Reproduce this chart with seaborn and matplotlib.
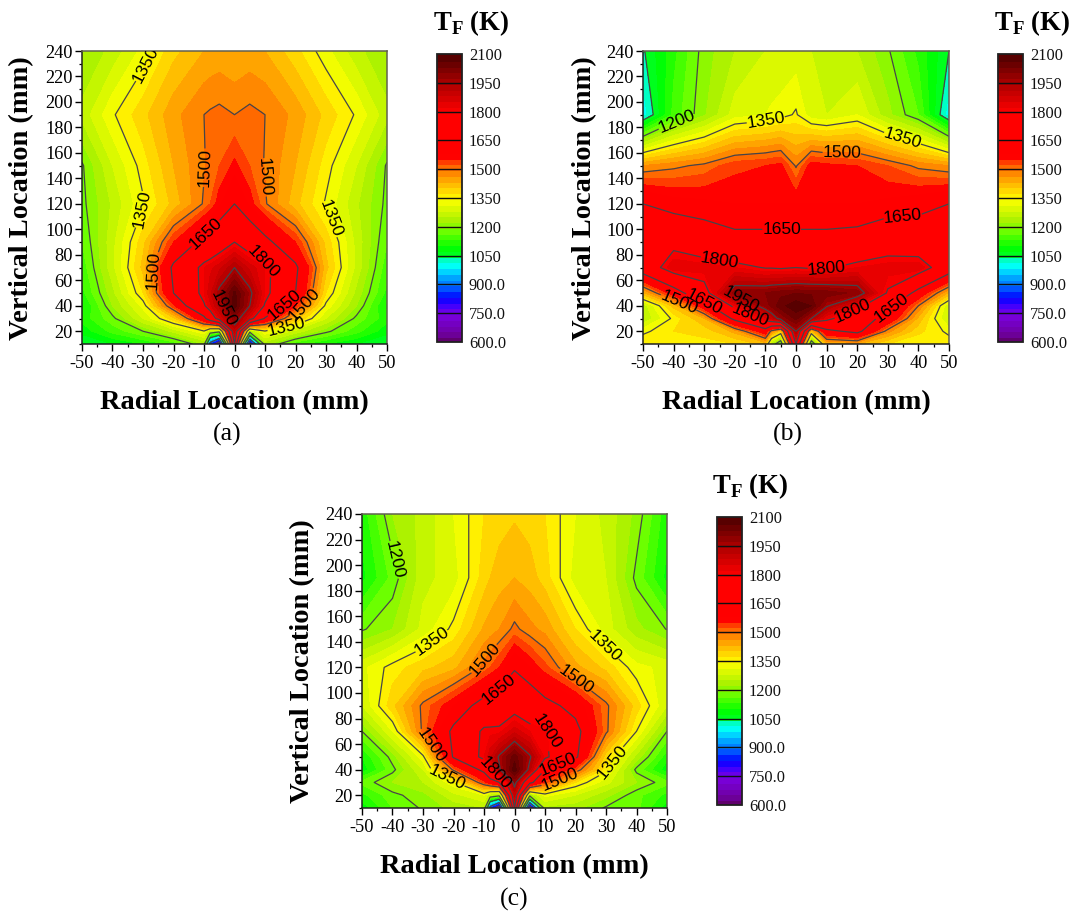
import matplotlib
matplotlib.use("Agg")
import matplotlib.pyplot as plt
import numpy as np
import seaborn as sns
from matplotlib.colors import LinearSegmentedColormap
from matplotlib.ticker import MultipleLocator

sns.set_theme(style="ticks")
plt.rcParams['font.family'] = ['Liberation Serif', 'DejaVu Serif']
plt.rcParams['mathtext.fontset'] = 'custom'
plt.rcParams['mathtext.bf'] = 'Liberation Serif:bold'
plt.rcParams['mathtext.rm'] = 'Liberation Serif:bold'
plt.rcParams['axes.unicode_minus'] = False

radial = [-50, -40, -30, -20, -10, -8, -5, 0, 5, 10, 20, 30, 40, 50]
vertical = [10, 20, 30, 40, 50, 70, 90, 120, 150, 190, 240]

temp_a = [
    [1050, 1080, 1110, 1150, 1230, 850, 650, 1800, 680, 1240, 1150, 1110, 1080, 1050],
    [1090, 1150, 1200, 1270, 1345, 1260, 1230, 1900, 1240, 1345, 1280, 1210, 1150, 1090],
    [1120, 1190, 1290, 1400, 1620, 1720, 1850, 2000, 1850, 1640, 1420, 1290, 1190, 1120],
    [1100, 1230, 1330, 1550, 1790, 1850, 1930, 2090, 1950, 1790, 1560, 1340, 1230, 1100],
    [1130, 1250, 1380, 1650, 1830, 1880, 1970, 2080, 1970, 1830, 1650, 1380, 1250, 1130],
    [1150, 1280, 1420, 1670, 1830, 1850, 1880, 1950, 1880, 1830, 1670, 1420, 1280, 1150],
    [1170, 1280, 1400, 1560, 1680, 1700, 1740, 1800, 1740, 1680, 1560, 1400, 1280, 1170],
    [1190, 1265, 1345, 1420, 1505, 1530, 1580, 1650, 1580, 1505, 1420, 1345, 1265, 1190],
    [1195, 1290, 1365, 1440, 1497, 1510, 1530, 1570, 1530, 1497, 1440, 1365, 1290, 1195],
    [1270, 1345, 1400, 1460, 1500, 1505, 1510, 1500, 1510, 1500, 1460, 1400, 1345, 1270],
    [1230, 1270, 1330, 1400, 1440, 1445, 1450, 1440, 1450, 1440, 1390, 1330, 1270, 1230],
]

temp_b = [
    [1380, 1350, 1370, 1380, 1420, 1250, 1130, 1800, 1130, 1430, 1440, 1380, 1350, 1370],
    [1340, 1380, 1390, 1450, 1600, 1480, 1400, 1950, 1400, 1620, 1680, 1480, 1390, 1340],
    [1260, 1360, 1440, 1680, 1850, 1900, 1980, 2050, 1950, 1830, 1700, 1620, 1430, 1280],
    [1270, 1420, 1600, 1830, 1990, 2020, 2060, 2090, 2070, 1960, 1830, 1680, 1500, 1290],
    [1430, 1590, 1760, 2000, 2010, 2020, 2030, 2040, 2035, 2030, 2000, 1790, 1610, 1430],
    [1720, 1860, 1850, 1830, 1795, 1795, 1790, 1800, 1790, 1790, 1830, 1850, 1860, 1720],
    [1700, 1770, 1720, 1680, 1680, 1680, 1680, 1680, 1680, 1680, 1690, 1740, 1720, 1700],
    [1650, 1610, 1600, 1590, 1590, 1590, 1590, 1590, 1590, 1590, 1590, 1600, 1620, 1650],
    [1470, 1490, 1510, 1550, 1560, 1565, 1570, 1495, 1580, 1570, 1560, 1530, 1490, 1470],
    [1000, 1150, 1225, 1305, 1320, 1325, 1335, 1355, 1300, 1290, 1320, 1240, 1170, 1000],
    [1045, 1130, 1215, 1260, 1290, 1295, 1290, 1300, 1290, 1280, 1260, 1205, 1130, 1050],
]

temp_c = [
    [1090, 1170, 1205, 1240, 1260, 850, 650, 1800, 650, 1250, 1240, 1195, 1180, 1090],
    [1130, 1190, 1220, 1280, 1320, 1260, 1230, 1900, 1230, 1330, 1290, 1240, 1180, 1130],
    [1180, 1230, 1260, 1340, 1540, 1590, 1650, 1980, 1680, 1540, 1380, 1300, 1230, 1180],
    [1090, 1190, 1290, 1510, 1680, 1790, 1940, 2090, 1930, 1650, 1530, 1360, 1190, 1090],
    [1110, 1215, 1340, 1660, 1830, 1880, 1960, 2060, 1960, 1820, 1670, 1390, 1250, 1120],
    [1200, 1320, 1510, 1670, 1820, 1820, 1820, 1880, 1830, 1810, 1680, 1510, 1350, 1200],
    [1290, 1400, 1510, 1590, 1690, 1700, 1720, 1760, 1730, 1680, 1620, 1510, 1395, 1290],
    [1310, 1365, 1400, 1430, 1510, 1530, 1560, 1640, 1590, 1540, 1450, 1400, 1330, 1310],
    [1195, 1230, 1300, 1360, 1445, 1455, 1470, 1510, 1480, 1460, 1380, 1305, 1240, 1198],
    [1100, 1180, 1280, 1305, 1395, 1410, 1425, 1440, 1425, 1395, 1305, 1290, 1190, 1100],
    [1120, 1230, 1270, 1320, 1380, 1388, 1395, 1405, 1395, 1380, 1320, 1280, 1220, 1120],
]

colorbar_ticks = [600, 750, 900, 1050, 1200, 1350, 1500, 1650, 1800, 1950, 2100]
colorbar_labels = ['600.0', '750.0', '900.0', '1050', '1200', '1350', '1500',
                   '1650', '1800', '1950', '2100']

labels_a = [(-27, 227), (-30.7, 116), (31.3, 108), (17, 24), (-12.3, 149), (10.8, 141),
            (-26, 68), (23.5, 40), (-8.5, 94), (15.5, 42), (9.5, 75), (-4.5, 37)]
labels_b = [(-38.5, 181), (-9.6, 182), (35, 173), (15, 161), (-38.5, 42), (-4.7, 97.5),
            (35, 106.6), (-30, 44), (29.7, 41), (-24.6, 80.5), (10, 71), (-15, 33),
            (18, 38.7), (-17.8, 46)]
labels_c = [(-39.7, 204), (-25.8, 136), (28.4, 134), (-22, 34), (31, 47), (-8.4, 124),
            (20, 110), (-27.5, 59), (15, 31.7), (-4.3, 99.5), (15, 39.5), (14, 70), (-6.8, 35.6)]

FW, FH = 1073, 913
fig = plt.figure(figsize=(FW / 100, FH / 100), dpi=100, facecolor='white')


def rect(x0, y0, x1, y1):
    return [x0 / FW, 1 - y1 / FH, (x1 - x0) / FW, (y1 - y0) / FH]


anchors = [(600, '#5a0058'), (650, '#6e00a0'), (750, '#7a00e0'), (800, '#3c00ff'),
           (840, '#0000ff'), (900, '#0070ff'), (960, '#00b8ff'), (1000, '#00ffff'),
           (1050, '#00ffaa'), (1060, '#00ff20'), (1100, '#00ff00'), (1200, '#80ff00'),
           (1230, '#a0f000'), (1350, '#ffff00'), (1380, '#ffe400'), (1485, '#ff8a00'),
           (1515, '#ff6a00'), (1545, '#ff3c00'), (1575, '#ff0000'), (1800, '#ff0000'),
           (1950, '#b00000'), (2100, '#4e0000')]
cmap = LinearSegmentedColormap.from_list(
    'tf', [((t - 600) / 1500, c) for t, c in anchors], N=512)

fill_levels = np.arange(600, 2101, 30)
line_levels = np.arange(600, 2101, 150)


def panel(temps, frame, cbar_frame, label_spots, tag, title_x, title_y, xlab, ylab, tag_xy):
    ax = fig.add_axes(rect(*frame))
    X, Y = np.meshgrid(radial, vertical)
    Z = np.array(temps, dtype=float)
    cf = ax.contourf(X, Y, Z, levels=fill_levels, cmap=cmap, vmin=600, vmax=2100)
    cs = ax.contour(X, Y, Z, levels=line_levels, colors='#45454a', linewidths=0.9)
    ax.clabel(cs, manual=label_spots, fmt='%d', colors='black', inline=True, inline_spacing=2,
              fontsize=12.5)
    for t in cs.labelTexts:
        t.set_family('Liberation Sans')
    ax.set_xlim(-50, 50)
    ax.set_ylim(10, 240)
    ax.set_xticks(np.arange(-50, 51, 10))
    ax.set_yticks(np.arange(20, 241, 20))
    ax.xaxis.set_minor_locator(MultipleLocator(5))
    ax.yaxis.set_minor_locator(MultipleLocator(10))
    ax.tick_params(which='major', direction='out', length=5, width=1, labelsize=13.2,
                   color='black', labelcolor='black', pad=3, bottom=True, left=True)
    ax.tick_params(axis='y', which='major', pad=1.5)
    ax.tick_params(which='minor', direction='out', length=2.5, width=0.9, color='black',
                   bottom=True, left=True)
    for side in ('left', 'bottom'):
        ax.spines[side].set_color('#202020')
        ax.spines[side].set_linewidth(1.1)
    for side in ('top', 'right'):
        ax.spines[side].set_color('#606050')
        ax.spines[side].set_linewidth(1.1)
    sns.despine(ax=ax, top=False, right=False)

    fig.text(xlab[0] / FW, 1 - xlab[1] / FH, 'Radial Location (mm)', fontsize=20.5,
             fontweight='bold', ha='center', va='center', color='black')
    fig.text(ylab[0] / FW, 1 - ylab[1] / FH, 'Vertical Location (mm)', fontsize=20.5,
             fontweight='bold', ha='center', va='center', rotation=90, color='black')
    fig.text(tag_xy[0] / FW, 1 - tag_xy[1] / FH, tag, fontsize=18.5, ha='center',
             va='center', color='black')

    cax = fig.add_axes(rect(*cbar_frame))
    cb = fig.colorbar(cf, cax=cax, ticks=colorbar_ticks)
    cb.ax.set_yticklabels(colorbar_labels)
    cb.ax.tick_params(which='both', length=0, labelsize=11.8, labelcolor='#111111', pad=5)
    cb.ax.minorticks_off()
    cb.outline.set_edgecolor('#202020')
    cb.outline.set_linewidth(1.3)
    cb.solids.set_edgecolor('face')
    cax.hlines(colorbar_ticks[1:-1], 0, 1, transform=cax.get_yaxis_transform(),
               colors='#101010', linewidth=1.0)
    fig.text(title_x / FW, 1 - title_y / FH, r'T$_{\mathbf{F}}$ (K)', fontsize=19.3,
             fontweight='bold', ha='center', va='center', color='black')


panel(temp_a, (82, 51, 387, 344), (437, 54, 462, 342), labels_a, '(a)',
      471, 23, (234, 403), (22, 198), (227, 434))
panel(temp_b, (643, 51, 949, 344), (998, 54, 1023, 342), labels_b, '(b)',
      1032, 23, (796, 403), (585, 198), (788, 434))
panel(temp_c, (362, 514, 667, 808), (717, 517, 742, 805), labels_c, '(c)',
      750, 486, (514, 867), (303, 661), (514, 899))

fig.savefig('out.png', dpi=100, facecolor='white')
